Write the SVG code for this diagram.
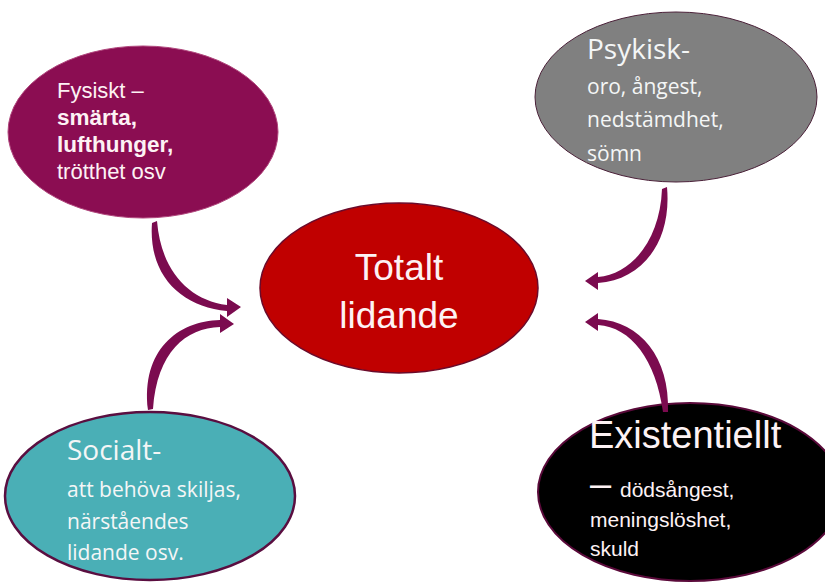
<svg xmlns="http://www.w3.org/2000/svg" width="825" height="583" viewBox="0 0 825 583">
<style>
.arial{font-family:"Liberation Sans",Arial,sans-serif;fill:#fdf2f4}
.segoe{font-family:"Open Sans","Noto Sans",sans-serif;fill:#f4f6f6}
.b{font-weight:bold}
.arrow{fill:#7b0b4f}
</style>
<rect width="825" height="583" fill="#ffffff"/>
<g id="fysiskt">
<ellipse cx="143" cy="132" rx="135" ry="86" fill="#8b0d52" stroke="#b0467c" stroke-width="1"/>
<text class="arial" x="57" y="98" font-size="22">Fysiskt –</text>
<text class="arial b" x="57" y="125" font-size="22.5">smärta,</text>
<text class="arial b" x="57" y="152" font-size="22.5">lufthunger,</text>
<text class="arial" x="57" y="179" font-size="22">trötthet osv</text>
</g>
<g id="psykisk">
<ellipse cx="676" cy="97" rx="141" ry="85" fill="#808080" stroke="#4a2038" stroke-width="1"/>
<text class="segoe" x="587" y="59" font-size="28">Psykisk-</text>
<text class="segoe" x="587" y="94" font-size="21">oro, ångest,</text>
<text class="segoe" x="587" y="127" font-size="21">nedstämdhet,</text>
<text class="segoe" x="587" y="161" font-size="21">sömn</text>
</g>
<g id="totalt">
<ellipse cx="399" cy="288" rx="139" ry="85" fill="#c00000" stroke="#6b0a2a" stroke-width="1.5"/>
<text class="arial" x="399" y="280" font-size="37" text-anchor="middle">Totalt</text>
<text class="arial" x="399" y="328" font-size="37" text-anchor="middle">lidande</text>
</g>
<g id="socialt">
<ellipse cx="150" cy="496" rx="145" ry="84" fill="#4aafb6" stroke="#5a0e40" stroke-width="2.5"/>
<text class="segoe" x="67" y="460" font-size="28">Socialt-</text>
<text class="segoe" x="67" y="497" font-size="21">att behöva skiljas,</text>
<text class="segoe" x="67" y="529" font-size="21">närståendes</text>
<text class="segoe" x="67" y="560" font-size="21">lidande osv.</text>
</g>
<g id="existentiellt">
<ellipse cx="690" cy="492" rx="152" ry="89" fill="#000000" stroke="#5a0a3a" stroke-width="2"/>
<text class="arial" x="589" y="448" font-size="38">Existentiellt</text>
<text class="arial" x="590" y="497" font-size="38">–</text>
<text class="arial" x="620" y="497" font-size="21">dödsångest,</text>
<text class="arial" x="590" y="527" font-size="21">meningslöshet,</text>
<text class="arial" x="590" y="556" font-size="21">skuld</text>
</g>
<g id="connectors">
<path class="arrow" d="M152,223 C148,276 182,307 227,311 L227,317 L241,307 L227,298 L227,305 C188,300 161,270 157,221 Z"/>
<path class="arrow" d="M148,410 C141,350 178,321 220,320 L220,314 L234,324 L220,333 L220,327 C186,328 157,352 153,409 Z"/>
<path class="arrow" d="M662,189 L667,187 C672,242 642,280 598,283 L598,290 L585,281 L598,272 L598,277 C632,274 660,240 662,189 Z"/>
<path class="arrow" d="M668,412 C670,357 640,322 598,319 L598,313 L585,322 L598,331 L598,325 C631,327 656,360 663,412 Z"/>
</g>
</svg>
